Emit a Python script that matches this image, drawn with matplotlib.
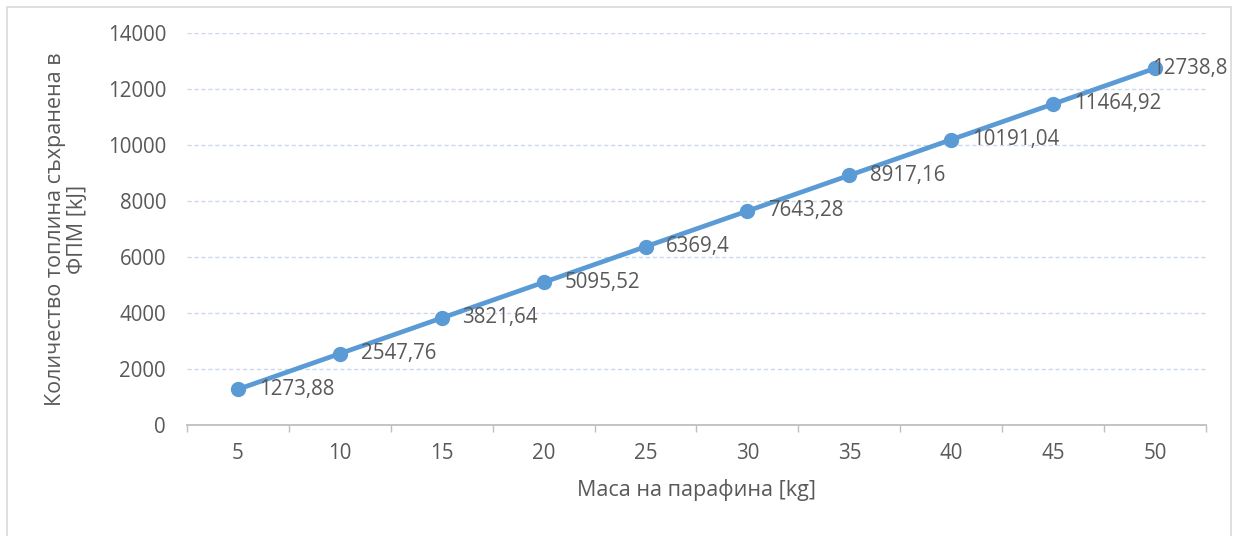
import numpy as np
import matplotlib.pyplot as plt
from matplotlib.patches import Rectangle

mass = [5, 10, 15, 20, 25, 30, 35, 40, 45, 50]
heat = [1273.88, 2547.76, 3821.64, 5095.52, 6369.4, 7643.28, 8917.16, 10191.04, 11464.92, 12738.8]
heat_labels = ['1273,88', '2547,76', '3821,64', '5095,52', '6369,4', '7643,28',
               '8917,16', '10191,04', '11464,92', '12738,8']
y_ticks = [0, 2000, 4000, 6000, 8000, 10000, 12000, 14000]

x_title = 'Маса на парафина [kg]'
y_title = 'Количество топлина съхранена в\nФПМ [kJ]'

plt.rcParams['font.family'] = ['Open Sans', 'DejaVu Sans']
txt = '#595959'
blue = '#5B9BD5'
fs = 14.8

fig = plt.figure(figsize=(12.34, 5.36), dpi=100)
ax = fig.add_axes([0.1515, 0.2071, 0.8258, 0.7313])

# chart frame
fig.patches.append(Rectangle((7 / 1234, -0.01), 1224 / 1234, 1 - 7 / 536 + 0.01,
                             transform=fig.transFigure, fill=False,
                             edgecolor='#d9d9d9', lw=1.2))

pos = np.arange(len(mass))
ax.plot(pos, heat, color=blue, lw=3.4, marker='o', markersize=10,
        solid_capstyle='round', zorder=3)

for i, (p, v, s) in enumerate(zip(pos, heat, heat_labels)):
    if i == len(pos) - 1:
        ax.annotate(s, (p, v), xytext=(-2, 0), textcoords='offset points',
                    ha='left', va='center', fontsize=fs, color=txt, zorder=4)
    else:
        ax.annotate(s, (p, v), xytext=(15, 0), textcoords='offset points',
                    ha='left', va='center', fontsize=fs, color=txt, zorder=4)

ax.set_xlim(-0.5, len(mass) - 0.5)
ax.set_ylim(0, 14000)
ax.set_yticks(y_ticks)
ax.set_yticklabels([str(t) for t in y_ticks])
ax.set_xticks(pos)
ax.set_xticklabels([str(m) for m in mass])
ax.set_xticks(np.arange(-0.5, len(mass)), minor=True)

ax.grid(axis='y', color='#cbd8ec', lw=1, linestyle=(0, (3, 2)))
ax.set_axisbelow(True)

for side in ['left', 'right', 'top']:
    ax.spines[side].set_visible(False)
ax.spines['bottom'].set_color('#bfbfbf')
ax.spines['bottom'].set_linewidth(1.3)

ax.tick_params(axis='y', length=0, pad=15, labelsize=fs, labelcolor=txt)
ax.tick_params(axis='x', which='major', length=0, pad=13, labelsize=fs, labelcolor=txt)
ax.tick_params(axis='x', which='minor', length=5, width=1, color='#bfbfbf')

ax.set_xlabel(x_title, fontsize=15.5, color=txt, labelpad=11)
ax.set_ylabel(y_title, fontsize=15.5, color=txt, labelpad=14, linespacing=1.1)

fig.savefig('out.png', dpi=100)
